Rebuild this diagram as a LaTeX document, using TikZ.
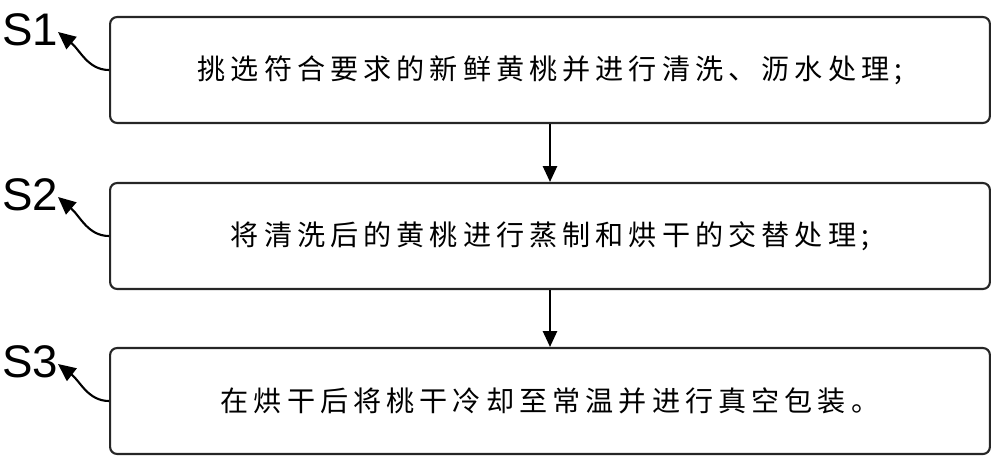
\documentclass[tikz,border=0pt]{standalone}
\usepackage{fontspec}
\setmainfont{Liberation Sans}
\newfontfamily\cjk[LetterSpace=18]{Noto Sans CJK SC}
\usetikzlibrary{arrows.meta}
\begin{document}
\begin{tikzpicture}[x=0.02cm,y=-0.02cm,
  stepbox/.style={draw=black!85,line width=1.2pt,rounded corners=4pt,minimum width=17.6cm,minimum height=2.12cm,font=\cjk\fontsize{16}{18}\selectfont},
  lab/.style={font=\fontsize{26}{28}\selectfont,inner sep=0pt},
  conn/.style={line width=1.2pt,-{Triangle[length=9pt,width=8pt]}},
  curv/.style={line width=1.2pt,-{Triangle[length=10pt,width=9pt]}}]
\useasboundingbox (0,0) rectangle (1000,460);
\node[stepbox] (b1) at (550,70) {挑选符合要求的新鲜黄桃并进行清洗、沥水处理;};
\node[stepbox] (b2) at (550,236) {将清洗后的黄桃进行蒸制和烘干的交替处理;};
\node[stepbox] (b3) at (550,401) {在烘干后将桃干冷却至常温并进行真空包装。};
\node[lab] (s1) at (30,30) {S1};
\node[lab] (s2) at (30,195) {S2};
\node[lab] (s3) at (30,362) {S3};
\draw[conn] (b1) -- (b2);
\draw[conn] (b2) -- (b3);
\coordinate (a1) at (58,32); \coordinate (a2) at (58,197); \coordinate (a3) at (58,364);
\draw[curv] (b1.west) .. controls (88,70) and (80,50) .. (a1);
\draw[curv] (b2.west) .. controls (88,236) and (80,216) .. (a2);
\draw[curv] (b3.west) .. controls (88,401) and (80,381) .. (a3);
\end{tikzpicture}
\end{document}
